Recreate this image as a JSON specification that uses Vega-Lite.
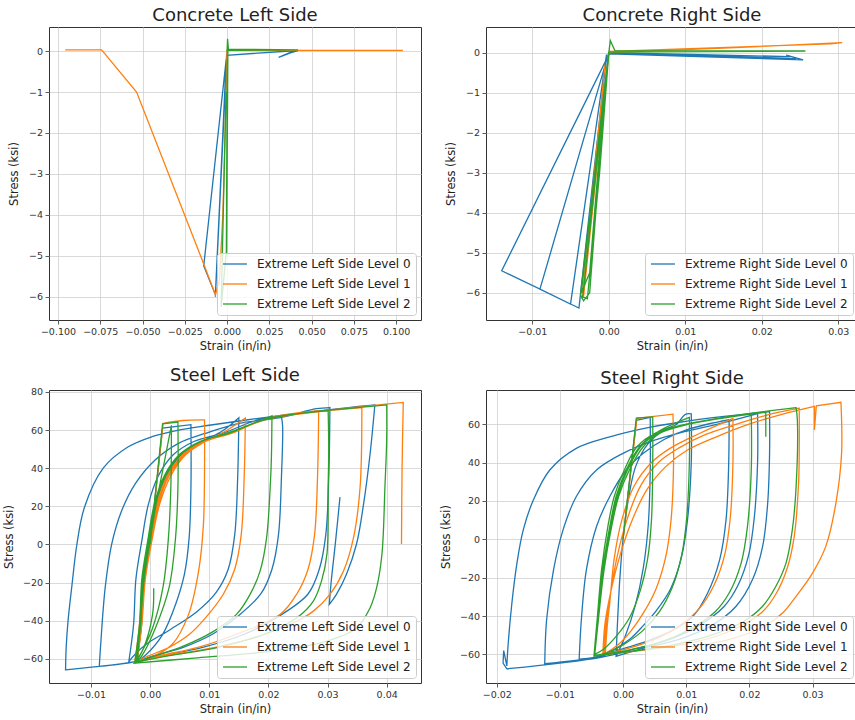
{
"$schema": "https://vega.github.io/schema/vega-lite/v6.json",
"background": "white",
"padding": {"left": 2, "top": 6, "right": 0, "bottom": 0},
"config": {
 "font": "DejaVu Sans",
 "view": {"stroke": "#333", "strokeWidth": 1},
 "axis": {"gridColor": "#cfcfcf", "gridWidth": 0.8, "domain": false, "tickColor": "#333", "tickSize": 4, "tickWidth": 0.8, "labelFontSize": 9.5, "labelColor": "#333", "titleFontSize": 11.5, "titleFontWeight": "normal", "titleColor": "#222", "labelPadding": 2.5, "titlePadding": 4, "labelFlush": false, "labelOverlap": false},
 "title": {"fontSize": 18, "fontWeight": "normal", "color": "#222", "offset": 2, "baseline": "alphabetic"},
 "legend": {"labelFontSize": 12, "labelColor": "#222", "labelLimit": 400, "symbolType": "M-1,0H3.8", "symbolSize": 100, "symbolStrokeWidth": 1.5, "labelOffset": 23, "rowPadding": 8, "padding": 5, "fillColor": "rgba(255,255,255,0.8)", "strokeColor": "#cccccc", "cornerRadius": 3, "orient": "bottom-right", "offset": 5},
 "line": {"strokeWidth": 1.3}
},
"datasets": {
"cl": [
{"l":0,"x":0,"y":0},{"l":0,"x":-0.0069,"y":-6.0},{"l":0,"x":-0.0005,"y":-0.2},{"l":0,"x":-0.0138,"y":-5.25},{"l":0,"x":-0.0069,"y":-5.95},{"l":0,"x":-0.0003,"y":-0.1},{"l":0,"x":0.0395,"y":0.01},{"l":0,"x":0.0305,"y":-0.15},{"l":0,"x":0.0375,"y":-0.04},{"l":0,"x":0.042,"y":0.01},
{"l":1,"x":0.104,"y":0.02},{"l":1,"x":0.05,"y":0.02},{"l":1,"x":0,"y":0.02},{"l":1,"x":-0.0008,"y":-1.5},{"l":1,"x":-0.0025,"y":-4},{"l":1,"x":-0.0045,"y":-5.6},{"l":1,"x":-0.0069,"y":-5.95},{"l":1,"x":-0.0138,"y":-5.2},{"l":1,"x":-0.0535,"y":-1.0},{"l":1,"x":-0.0742,"y":0.03},{"l":1,"x":-0.0957,"y":0.03},
{"l":2,"x":0,"y":0},{"l":2,"x":0.0003,"y":0.3},{"l":2,"x":0.0008,"y":0.05},{"l":2,"x":0.042,"y":0.03},{"l":2,"x":0.0005,"y":0.02},{"l":2,"x":-0.0003,"y":-4.95},{"l":2,"x":0.0002,"y":-0.5},{"l":2,"x":-0.0002,"y":-3},{"l":2,"x":0.0001,"y":-0.2},{"l":2,"x":-0.0004,"y":-4.9},{"l":2,"x":-0.0035,"y":-6.25},{"l":2,"x":-0.0006,"y":-1.0}
],
"cr": [
{"l":0,"x":0,"y":0},{"l":0,"x":0.012,"y":-0.05},{"l":0,"x":0.0237,"y":-0.1},{"l":0,"x":0.0232,"y":-0.06},{"l":0,"x":0.0254,"y":-0.18},{"l":0,"x":0,"y":-0.03},{"l":0,"x":0.018,"y":-0.12},{"l":0,"x":0.0245,"y":-0.15},{"l":0,"x":0,"y":0},{"l":0,"x":-0.0039,"y":-6.38},{"l":0,"x":-0.0003,"y":-0.1},{"l":0,"x":-0.0039,"y":-6.38},{"l":0,"x":-0.005,"y":-6.28},{"l":0,"x":-0.0003,"y":-0.05},{"l":0,"x":-0.005,"y":-6.28},{"l":0,"x":-0.009,"y":-5.91},{"l":0,"x":0,"y":0},{"l":0,"x":-0.009,"y":-5.91},{"l":0,"x":-0.014,"y":-5.45},{"l":0,"x":0,"y":-0.05},
{"l":1,"x":0,"y":0},{"l":1,"x":-0.0033,"y":-6.1},{"l":1,"x":-0.0005,"y":-0.3},{"l":1,"x":-0.0035,"y":-6.15},{"l":1,"x":0,"y":0},{"l":1,"x":0.015,"y":0.11},{"l":1,"x":0.0305,"y":0.25},{"l":1,"x":0.029,"y":0.22},{"l":1,"x":0,"y":0.03},
{"l":2,"x":0,"y":0},{"l":2,"x":0.0002,"y":0.3},{"l":2,"x":0.0008,"y":0.05},{"l":2,"x":0.0257,"y":0.04},{"l":2,"x":0,"y":0.01},{"l":2,"x":-0.0037,"y":-6.05},{"l":2,"x":-0.0033,"y":-6.2},{"l":2,"x":-0.0025,"y":-6.0},{"l":2,"x":-0.0003,"y":-0.5},{"l":2,"x":-0.0034,"y":-6.1},{"l":2,"x":-0.0028,"y":-6.15},{"l":2,"x":-0.0012,"y":-3},{"l":2,"x":0,"y":0},{"l":2,"x":-0.0036,"y":-6.0},{"l":2,"x":-0.0025,"y":-5.5},{"l":2,"x":-0.0008,"y":-1.5},{"l":2,"x":0,"y":0}
],
"sl": [
{"l":0,"x":0,"y":0},{"l":0,"x":0.0021,"y":61},{"l":0,"x":0.0021,"y":61},{"l":0,"x":0.0069,"y":62.8},{"l":0,"x":0.0069,"y":62.8},
{"l":0,"x":0.0069,"y":30},{"l":0,"x":0.0066,"y":3.7},{"l":0,"x":0.0058,"y":-15.6},{"l":0,"x":0.0043,"y":-31.5},{"l":0,"x":0.0021,"y":-47.3},{"l":0,"x":-0.0007,"y":-57.9},{"l":0,"x":-0.00225,"y":-61.5},{"l":0,"x":-0.00225,"y":-61.5},
{"l":0,"x":-0.00145,"y":-42},{"l":0,"x":-0.00105,"y":-18},{"l":0,"x":-0.00005,"y":2},{"l":0,"x":0.00105,"y":21},{"l":0,"x":0.00275,"y":36},{"l":0,"x":0.00525,"y":47},{"l":0,"x":0.0088,"y":54},{"l":0,"x":0.0122,"y":59.5},{"l":0,"x":0.015,"y":66.5},{"l":0,"x":0.015,"y":66.5},
{"l":0,"x":0.0148,"y":35},{"l":0,"x":0.0143,"y":5},{"l":0,"x":0.0132,"y":-13},{"l":0,"x":0.0112,"y":-25},{"l":0,"x":0.008,"y":-35},{"l":0,"x":0.0035,"y":-44.5},{"l":0,"x":-0.0005,"y":-52},{"l":0,"x":-0.0025,"y":-57.5},{"l":0,"x":-0.0036,"y":-61.5},{"l":0,"x":-0.0036,"y":-61.5},
{"l":0,"x":-0.0028,"y":-42},{"l":0,"x":-0.0024,"y":-18},{"l":0,"x":-0.0014,"y":2},{"l":0,"x":-0.0003,"y":21},{"l":0,"x":0.0014,"y":36},{"l":0,"x":0.0039,"y":47},{"l":0,"x":0.0074,"y":54},{"l":0,"x":0.0124,"y":58.5},{"l":0,"x":0.0184,"y":65.5},{"l":0,"x":0.0222,"y":67},{"l":0,"x":0.0222,"y":67},
{"l":0,"x":0.0224,"y":62},{"l":0,"x":0.0222,"y":35},{"l":0,"x":0.0217,"y":5},{"l":0,"x":0.0206,"y":-13},{"l":0,"x":0.0187,"y":-26},{"l":0,"x":0.0147,"y":-38},{"l":0,"x":0.0106,"y":-47},{"l":0,"x":0.0056,"y":-54},{"l":0,"x":0.0005,"y":-58.5},{"l":0,"x":-0.0025,"y":-61.5},{"l":0,"x":-0.0086,"y":-64},{"l":0,"x":-0.0086,"y":-64},
{"l":0,"x":-0.0084,"y":-54.3},{"l":0,"x":-0.0076,"y":-22.7},{"l":0,"x":-0.0065,"y":0.2},{"l":0,"x":-0.0048,"y":17.8},{"l":0,"x":-0.0025,"y":31.9},{"l":0,"x":0.0008,"y":44.2},{"l":0,"x":0.0048,"y":53},{"l":0,"x":0.0093,"y":58.2},{"l":0,"x":0.015,"y":63.5},{"l":0,"x":0.022,"y":66.5},{"l":0,"x":0.0281,"y":71.2},{"l":0,"x":0.0304,"y":71.8},{"l":0,"x":0.0304,"y":71.8},
{"l":0,"x":0.0302,"y":35},{"l":0,"x":0.0297,"y":5},{"l":0,"x":0.0286,"y":-13},{"l":0,"x":0.0267,"y":-26},{"l":0,"x":0.0216,"y":-38},{"l":0,"x":0.016,"y":-47},{"l":0,"x":0.0089,"y":-54},{"l":0,"x":0.0018,"y":-58.5},{"l":0,"x":-0.0025,"y":-61.5},{"l":0,"x":-0.0143,"y":-65.8},{"l":0,"x":-0.0143,"y":-65.8},
{"l":0,"x":-0.0142,"y":-54.3},{"l":0,"x":-0.0139,"y":-40.8},{"l":0,"x":-0.0132,"y":-20.9},{"l":0,"x":-0.0124,"y":-0.3},{"l":0,"x":-0.0111,"y":19.5},{"l":0,"x":-0.0079,"y":40.1},{"l":0,"x":-0.0037,"y":51.2},{"l":0,"x":0.0003,"y":56.5},{"l":0,"x":0.0048,"y":60},{"l":0,"x":0.01,"y":62.5},{"l":0,"x":0.018,"y":66},{"l":0,"x":0.027,"y":69.5},{"l":0,"x":0.0335,"y":71.8},{"l":0,"x":0.038,"y":73.2},{"l":0,"x":0.038,"y":73.2},
{"l":0,"x":0.0372,"y":47.7},{"l":0,"x":0.0361,"y":21.4},{"l":0,"x":0.0349,"y":0.2},{"l":0,"x":0.0332,"y":-15.6},{"l":0,"x":0.0315,"y":-26.2},{"l":0,"x":0.0303,"y":-31.5},{"l":0,"x":0.0303,"y":-31.5},
{"l":0,"x":0.0306,"y":-20},{"l":0,"x":0.0313,"y":0},{"l":0,"x":0.0321,"y":24.8},
{"l":1,"x":0,"y":0},{"l":1,"x":0.0022,"y":63.5},{"l":1,"x":0.0022,"y":63.5},{"l":1,"x":0.0055,"y":65},{"l":1,"x":0.0092,"y":65.3},{"l":1,"x":0.0092,"y":65.3},
{"l":1,"x":0.0092,"y":40},{"l":1,"x":0.009,"y":10},{"l":1,"x":0.0082,"y":-13.9},{"l":1,"x":0.0065,"y":-36.7},{"l":1,"x":0.0037,"y":-52.5},{"l":1,"x":-0.0008,"y":-60.4},{"l":1,"x":-0.0022,"y":-61.2},{"l":1,"x":-0.0022,"y":-61.2},
{"l":1,"x":-0.0014,"y":-42},{"l":1,"x":-0.0008,"y":-18},{"l":1,"x":0.0003,"y":2},{"l":1,"x":0.0016,"y":21},{"l":1,"x":0.0035,"y":36},{"l":1,"x":0.006,"y":47},{"l":1,"x":0.0093,"y":54},{"l":1,"x":0.0128,"y":59.5},{"l":1,"x":0.0161,"y":66.3},{"l":1,"x":0.0161,"y":66.3},
{"l":1,"x":0.0159,"y":35},{"l":1,"x":0.0154,"y":5},{"l":1,"x":0.0143,"y":-13},{"l":1,"x":0.0124,"y":-26},{"l":1,"x":0.0095,"y":-38},{"l":1,"x":0.0067,"y":-47},{"l":1,"x":0.0032,"y":-54},{"l":1,"x":-0.0003,"y":-58.5},{"l":1,"x":-0.0024,"y":-61.5},{"l":1,"x":-0.0024,"y":-61.5},
{"l":1,"x":-0.0016,"y":-42},{"l":1,"x":-0.0009,"y":-18},{"l":1,"x":0.0002,"y":2},{"l":1,"x":0.0014,"y":21},{"l":1,"x":0.0032,"y":36},{"l":1,"x":0.0058,"y":47},{"l":1,"x":0.0093,"y":54},{"l":1,"x":0.014,"y":58.5},{"l":1,"x":0.0196,"y":66},{"l":1,"x":0.0285,"y":70.2},{"l":1,"x":0.0285,"y":70.2},
{"l":1,"x":0.0283,"y":35},{"l":1,"x":0.0278,"y":5},{"l":1,"x":0.0267,"y":-13},{"l":1,"x":0.0248,"y":-26},{"l":1,"x":0.022,"y":-36.7},{"l":1,"x":0.0147,"y":-47},{"l":1,"x":0.0081,"y":-54},{"l":1,"x":0.0015,"y":-58.5},{"l":1,"x":-0.0025,"y":-62},{"l":1,"x":-0.0025,"y":-62},
{"l":1,"x":-0.0017,"y":-42},{"l":1,"x":-0.0011,"y":-18},{"l":1,"x":0,"y":2},{"l":1,"x":0.0012,"y":21},{"l":1,"x":0.003,"y":36},{"l":1,"x":0.0056,"y":47},{"l":1,"x":0.009,"y":54},{"l":1,"x":0.0138,"y":58.5},{"l":1,"x":0.0195,"y":65.5},{"l":1,"x":0.0275,"y":69.3},{"l":1,"x":0.0358,"y":71.8},{"l":1,"x":0.0358,"y":71.8},
{"l":1,"x":0.0355,"y":30},{"l":1,"x":0.0344,"y":3.7},{"l":1,"x":0.0327,"y":-13.9},{"l":1,"x":0.0304,"y":-26.2},{"l":1,"x":0.0276,"y":-35},{"l":1,"x":0.0248,"y":-40.3},{"l":1,"x":0.0194,"y":-47},{"l":1,"x":0.011,"y":-54},{"l":1,"x":0.0025,"y":-58.5},{"l":1,"x":-0.0026,"y":-62},{"l":1,"x":-0.0026,"y":-62},
{"l":1,"x":-0.0018,"y":-42},{"l":1,"x":-0.0012,"y":-18},{"l":1,"x":-0.0001,"y":2},{"l":1,"x":0.0011,"y":21},{"l":1,"x":0.0029,"y":36},{"l":1,"x":0.0055,"y":47},{"l":1,"x":0.0089,"y":54},{"l":1,"x":0.0137,"y":58.5},{"l":1,"x":0.0194,"y":65.5},{"l":1,"x":0.0274,"y":69.5},{"l":1,"x":0.035,"y":72},{"l":1,"x":0.0428,"y":74.5},{"l":1,"x":0.0428,"y":74.5},
{"l":1,"x":0.0426,"y":40},{"l":1,"x":0.0425,"y":0.2},
{"l":2,"x":0,"y":0},{"l":2,"x":0.0021,"y":63.2},{"l":2,"x":0.0021,"y":63.2},{"l":2,"x":0.0047,"y":64.2},{"l":2,"x":0.0047,"y":64.2},
{"l":2,"x":0.0047,"y":30},{"l":2,"x":0.0043,"y":3.7},{"l":2,"x":0.0032,"y":-22.7},{"l":2,"x":0.0009,"y":-43.8},{"l":2,"x":-0.0013,"y":-57.9},{"l":2,"x":-0.0022,"y":-61.5},{"l":2,"x":-0.0022,"y":-61.5},
{"l":2,"x":-0.0016,"y":-40},{"l":2,"x":-0.001,"y":-18},{"l":2,"x":0,"y":2},{"l":2,"x":0.001,"y":21},{"l":2,"x":0.0022,"y":40},{"l":2,"x":0.0036,"y":62.5},{"l":2,"x":0.0036,"y":62.5},
{"l":2,"x":0.0035,"y":30},{"l":2,"x":0.0031,"y":3.7},{"l":2,"x":0.0022,"y":-22},{"l":2,"x":0.0004,"y":-44},{"l":2,"x":-0.0015,"y":-57},{"l":2,"x":-0.0024,"y":-61.8},{"l":2,"x":-0.0024,"y":-61.8},
{"l":2,"x":-0.0016,"y":-42},{"l":2,"x":-0.0012,"y":-18},{"l":2,"x":-0.0002,"y":2},{"l":2,"x":0.0009,"y":21},{"l":2,"x":0.0026,"y":36},{"l":2,"x":0.0051,"y":47},{"l":2,"x":0.0086,"y":54},{"l":2,"x":0.0136,"y":59},{"l":2,"x":0.0206,"y":67.5},{"l":2,"x":0.0206,"y":67.5},
{"l":2,"x":0.0205,"y":45},{"l":2,"x":0.0203,"y":30},{"l":2,"x":0.0197,"y":3.7},{"l":2,"x":0.0186,"y":-13.9},{"l":2,"x":0.0169,"y":-26.2},{"l":2,"x":0.0146,"y":-36.7},{"l":2,"x":0.0105,"y":-46},{"l":2,"x":0.0055,"y":-53.5},{"l":2,"x":0.0008,"y":-58.5},{"l":2,"x":-0.0025,"y":-62},{"l":2,"x":-0.0025,"y":-62},
{"l":2,"x":-0.0017,"y":-42},{"l":2,"x":-0.0013,"y":-18},{"l":2,"x":-0.0003,"y":2},{"l":2,"x":0.0008,"y":21},{"l":2,"x":0.0025,"y":36},{"l":2,"x":0.005,"y":47},{"l":2,"x":0.0085,"y":54},{"l":2,"x":0.0135,"y":58.5},{"l":2,"x":0.0195,"y":65.8},{"l":2,"x":0.0301,"y":70.2},{"l":2,"x":0.0301,"y":70.2},
{"l":2,"x":0.0302,"y":50},{"l":2,"x":0.0301,"y":30},{"l":2,"x":0.0299,"y":-5},{"l":2,"x":0.029,"y":-19},{"l":2,"x":0.0276,"y":-29.7},{"l":2,"x":0.0248,"y":-38.5},{"l":2,"x":0.0195,"y":-47},{"l":2,"x":0.0115,"y":-54},{"l":2,"x":0.003,"y":-58.5},{"l":2,"x":-0.0026,"y":-62},{"l":2,"x":-0.0026,"y":-62},
{"l":2,"x":-0.0018,"y":-42},{"l":2,"x":-0.0014,"y":-18},{"l":2,"x":-0.0004,"y":2},{"l":2,"x":0.0007,"y":21},{"l":2,"x":0.0024,"y":36},{"l":2,"x":0.0049,"y":47},{"l":2,"x":0.0084,"y":54},{"l":2,"x":0.0134,"y":58.5},{"l":2,"x":0.0194,"y":65.5},{"l":2,"x":0.0274,"y":69.5},{"l":2,"x":0.034,"y":71.5},{"l":2,"x":0.04,"y":73.2},{"l":2,"x":0.04,"y":73.2},
{"l":2,"x":0.04,"y":55},{"l":2,"x":0.0397,"y":30},{"l":2,"x":0.0392,"y":-5},{"l":2,"x":0.0383,"y":-22.7},{"l":2,"x":0.0372,"y":-33.2},{"l":2,"x":0.0349,"y":-43.8},{"l":2,"x":0.029,"y":-51.5},{"l":2,"x":0.019,"y":-56.5},{"l":2,"x":0.008,"y":-59.5},{"l":2,"x":-0.0027,"y":-62.3},{"l":2,"x":-0.0027,"y":-62.3},
{"l":2,"x":-0.0012,"y":-55},{"l":2,"x":0.0004,"y":-37},{"l":2,"x":0.0006,"y":-23}
],
"sr": [
{"l":0,"x":0,"y":0},{"l":0,"x":0.0021,"y":62},{"l":0,"x":0.0021,"y":62},{"l":0,"x":0.0043,"y":63.5},{"l":0,"x":0.0043,"y":63.5},
{"l":0,"x":0.0043,"y":35},{"l":0,"x":0.004,"y":8},{"l":0,"x":0.0032,"y":-15},{"l":0,"x":0.0019,"y":-35},{"l":0,"x":0.0004,"y":-50},{"l":0,"x":-0.0011,"y":-61},{"l":0,"x":-0.0011,"y":-61},
{"l":0,"x":-0.0009,"y":-45},{"l":0,"x":-0.0005,"y":-20},{"l":0,"x":0,"y":0},{"l":0,"x":0.0008,"y":20},{"l":0,"x":0.002,"y":38},{"l":0,"x":0.004,"y":50},{"l":0,"x":0.0065,"y":57},{"l":0,"x":0.0085,"y":60},{"l":0,"x":0.0098,"y":65},{"l":0,"x":0.0108,"y":65.4},{"l":0,"x":0.0108,"y":65.4},
{"l":0,"x":0.0108,"y":40},{"l":0,"x":0.0102,"y":10},{"l":0,"x":0.0092,"y":-10},{"l":0,"x":0.0075,"y":-26},{"l":0,"x":0.0053,"y":-37},{"l":0,"x":0.0032,"y":-45},{"l":0,"x":0.0011,"y":-52},{"l":0,"x":-0.0012,"y":-57},{"l":0,"x":-0.003,"y":-60.5},{"l":0,"x":-0.00695,"y":-62.5},{"l":0,"x":-0.00695,"y":-62.5},
{"l":0,"x":-0.0066,"y":-41.8},{"l":0,"x":-0.0058,"y":-15.8},{"l":0,"x":-0.0042,"y":6.7},{"l":0,"x":-0.0021,"y":22.3},{"l":0,"x":0.0005,"y":36.1},{"l":0,"x":0.0032,"y":44.8},{"l":0,"x":0.0065,"y":52},{"l":0,"x":0.0105,"y":57.5},{"l":0,"x":0.0168,"y":62.3},{"l":0,"x":0.0168,"y":62.3},
{"l":0,"x":0.0167,"y":36},{"l":0,"x":0.0163,"y":10},{"l":0,"x":0.0153,"y":-10.6},{"l":0,"x":0.0134,"y":-28},{"l":0,"x":0.0111,"y":-40},{"l":0,"x":0.0075,"y":-48},{"l":0,"x":0.003,"y":-54},{"l":0,"x":-0.001,"y":-58},{"l":0,"x":-0.0045,"y":-61.5},{"l":0,"x":-0.0124,"y":-64.8},{"l":0,"x":-0.0124,"y":-64.8},
{"l":0,"x":-0.0121,"y":-41.8},{"l":0,"x":-0.011,"y":-15.8},{"l":0,"x":-0.0095,"y":4.9},{"l":0,"x":-0.0074,"y":22.3},{"l":0,"x":-0.0042,"y":36.1},{"l":0,"x":0,"y":44.8},{"l":0,"x":0.0042,"y":50.8},{"l":0,"x":0.009,"y":55.5},{"l":0,"x":0.015,"y":60},{"l":0,"x":0.0213,"y":65.5},{"l":0,"x":0.0213,"y":65.5},
{"l":0,"x":0.0213,"y":40},{"l":0,"x":0.0208,"y":12},{"l":0,"x":0.0199,"y":-8},{"l":0,"x":0.0182,"y":-24},{"l":0,"x":0.016,"y":-35},{"l":0,"x":0.012,"y":-45},{"l":0,"x":0.0075,"y":-52},{"l":0,"x":0.002,"y":-57},{"l":0,"x":-0.0035,"y":-61.5},{"l":0,"x":-0.0184,"y":-67.5},{"l":0,"x":-0.0184,"y":-67.5},
{"l":0,"x":-0.019,"y":-64.5},{"l":0,"x":-0.019,"y":-64.5},{"l":0,"x":-0.0189,"y":-58},{"l":0,"x":-0.0189,"y":-58},{"l":0,"x":-0.0184,"y":-66},{"l":0,"x":-0.0184,"y":-66},
{"l":0,"x":-0.0182,"y":-55},{"l":0,"x":-0.0176,"y":-33.2},{"l":0,"x":-0.0168,"y":-12.4},{"l":0,"x":-0.0158,"y":4.9},{"l":0,"x":-0.0142,"y":20.5},{"l":0,"x":-0.0116,"y":36.1},{"l":0,"x":-0.0074,"y":47.4},{"l":0,"x":-0.0021,"y":53.4},{"l":0,"x":0.0032,"y":57.7},{"l":0,"x":0.009,"y":61},{"l":0,"x":0.016,"y":64},{"l":0,"x":0.0232,"y":66.5},{"l":0,"x":0.0232,"y":66.5},
{"l":0,"x":0.0232,"y":44.8},{"l":0,"x":0.0229,"y":18.8},{"l":0,"x":0.0221,"y":-3.7},{"l":0,"x":0.0205,"y":-21},{"l":0,"x":0.0179,"y":-34.9},{"l":0,"x":0.014,"y":-45},{"l":0,"x":0.009,"y":-52},{"l":0,"x":0.003,"y":-57},{"l":0,"x":-0.0011,"y":-61},{"l":0,"x":-0.0011,"y":-61},
{"l":0,"x":-0.0009,"y":-56},
{"l":1,"x":0,"y":0},{"l":1,"x":0.0022,"y":63},{"l":1,"x":0.0022,"y":63},{"l":1,"x":0.0079,"y":65.2},{"l":1,"x":0.0079,"y":65.2},
{"l":1,"x":0.008,"y":40},{"l":1,"x":0.0076,"y":10},{"l":1,"x":0.0067,"y":-10},{"l":1,"x":0.0052,"y":-26},{"l":1,"x":0.0033,"y":-38},{"l":1,"x":0.0012,"y":-48},{"l":1,"x":-0.0008,"y":-55},{"l":1,"x":-0.0028,"y":-59.5},{"l":1,"x":-0.0028,"y":-59.5},
{"l":1,"x":-0.0025,"y":-45},{"l":1,"x":-0.0021,"y":-33},{"l":1,"x":-0.0014,"y":-10},{"l":1,"x":-0.0002,"y":10},{"l":1,"x":0.0018,"y":28},{"l":1,"x":0.0045,"y":40},{"l":1,"x":0.0075,"y":47.5},{"l":1,"x":0.012,"y":55},{"l":1,"x":0.0174,"y":63},{"l":1,"x":0.0174,"y":63},
{"l":1,"x":0.0174,"y":40},{"l":1,"x":0.017,"y":12},{"l":1,"x":0.0161,"y":-8},{"l":1,"x":0.0144,"y":-24},{"l":1,"x":0.0121,"y":-36},{"l":1,"x":0.009,"y":-45},{"l":1,"x":0.0055,"y":-51.5},{"l":1,"x":0.0012,"y":-56.5},{"l":1,"x":-0.003,"y":-60},{"l":1,"x":-0.003,"y":-60},
{"l":1,"x":-0.0027,"y":-45},{"l":1,"x":-0.0022,"y":-33},{"l":1,"x":-0.001,"y":-10},{"l":1,"x":0.0006,"y":10},{"l":1,"x":0.0028,"y":28},{"l":1,"x":0.0056,"y":40},{"l":1,"x":0.0088,"y":47.5},{"l":1,"x":0.013,"y":54.5},{"l":1,"x":0.018,"y":60},{"l":1,"x":0.0225,"y":64.5},{"l":1,"x":0.0279,"y":68.3},{"l":1,"x":0.0279,"y":68.3},
{"l":1,"x":0.0279,"y":50},{"l":1,"x":0.0278,"y":30},{"l":1,"x":0.0271,"y":1.4},{"l":1,"x":0.026,"y":-15},{"l":1,"x":0.0243,"y":-28},{"l":1,"x":0.022,"y":-38},{"l":1,"x":0.0175,"y":-47},{"l":1,"x":0.0115,"y":-53.5},{"l":1,"x":0.004,"y":-57.5},{"l":1,"x":-0.0032,"y":-60},{"l":1,"x":-0.0032,"y":-60},
{"l":1,"x":-0.0029,"y":-45},{"l":1,"x":-0.0023,"y":-33},{"l":1,"x":-0.0008,"y":-12},{"l":1,"x":0.0012,"y":8},{"l":1,"x":0.0038,"y":26},{"l":1,"x":0.0068,"y":38},{"l":1,"x":0.0102,"y":46.5},{"l":1,"x":0.0145,"y":53},{"l":1,"x":0.0195,"y":59.5},{"l":1,"x":0.025,"y":65},{"l":1,"x":0.0303,"y":69.3},{"l":1,"x":0.0303,"y":69.3},{"l":1,"x":0.0303,"y":57},{"l":1,"x":0.0303,"y":57},{"l":1,"x":0.0306,"y":69.5},{"l":1,"x":0.0306,"y":69.5},{"l":1,"x":0.0345,"y":71.4},{"l":1,"x":0.0345,"y":71.4},
{"l":1,"x":0.0346,"y":44.8},{"l":1,"x":0.0337,"y":18.8},{"l":1,"x":0.0321,"y":-3.7},{"l":1,"x":0.03,"y":-17.6},{"l":1,"x":0.0274,"y":-29.7},{"l":1,"x":0.0253,"y":-38.3},{"l":1,"x":0.022,"y":-46},{"l":1,"x":0.017,"y":-52},{"l":1,"x":0.011,"y":-56},
{"l":2,"x":0,"y":0},{"l":2,"x":0.0021,"y":63.2},{"l":2,"x":0.0021,"y":63.2},{"l":2,"x":0.0047,"y":63.8},{"l":2,"x":0.0047,"y":63.8},
{"l":2,"x":0.0047,"y":40},{"l":2,"x":0.0045,"y":10},{"l":2,"x":0.0039,"y":-10},{"l":2,"x":0.0027,"y":-27},{"l":2,"x":0.001,"y":-41},{"l":2,"x":-0.0012,"y":-51},{"l":2,"x":-0.003,"y":-57},{"l":2,"x":-0.0045,"y":-60},{"l":2,"x":-0.0045,"y":-60},
{"l":2,"x":-0.004,"y":-41.8},{"l":2,"x":-0.0032,"y":-15.8},{"l":2,"x":-0.0021,"y":6.7},{"l":2,"x":-0.0011,"y":22.3},{"l":2,"x":0.0005,"y":36.1},{"l":2,"x":0.0026,"y":48.2},{"l":2,"x":0.0055,"y":56},{"l":2,"x":0.0105,"y":63.5},{"l":2,"x":0.0105,"y":63.5},
{"l":2,"x":0.0105,"y":40},{"l":2,"x":0.0101,"y":12},{"l":2,"x":0.0093,"y":-8},{"l":2,"x":0.0078,"y":-25},{"l":2,"x":0.0057,"y":-38},{"l":2,"x":0.003,"y":-48},{"l":2,"x":0,"y":-55},{"l":2,"x":-0.0025,"y":-59},{"l":2,"x":-0.0045,"y":-60.5},{"l":2,"x":-0.0045,"y":-60.5},
{"l":2,"x":-0.0039,"y":-41.8},{"l":2,"x":-0.003,"y":-15.8},{"l":2,"x":-0.0018,"y":6.7},{"l":2,"x":-0.0007,"y":22.3},{"l":2,"x":0.001,"y":36.1},{"l":2,"x":0.0032,"y":48.2},{"l":2,"x":0.006,"y":55.5},{"l":2,"x":0.0098,"y":59.5},{"l":2,"x":0.0145,"y":62.5},{"l":2,"x":0.0203,"y":65.3},{"l":2,"x":0.0203,"y":65.3},
{"l":2,"x":0.0203,"y":36.1},{"l":2,"x":0.0197,"y":6.7},{"l":2,"x":0.0187,"y":-12.4},{"l":2,"x":0.0168,"y":-28},{"l":2,"x":0.0145,"y":-38},{"l":2,"x":0.0105,"y":-47},{"l":2,"x":0.006,"y":-53.5},{"l":2,"x":0.0005,"y":-58},{"l":2,"x":-0.0046,"y":-60.5},{"l":2,"x":-0.0046,"y":-60.5},
{"l":2,"x":-0.0041,"y":-41.8},{"l":2,"x":-0.0034,"y":-15.8},{"l":2,"x":-0.0024,"y":6.7},{"l":2,"x":-0.0014,"y":22.3},{"l":2,"x":0.0002,"y":36.1},{"l":2,"x":0.0022,"y":48.2},{"l":2,"x":0.0052,"y":55.5},{"l":2,"x":0.0093,"y":59.5},{"l":2,"x":0.0145,"y":62.8},{"l":2,"x":0.021,"y":66},{"l":2,"x":0.0274,"y":68.6},{"l":2,"x":0.0274,"y":68.6},
{"l":2,"x":0.0276,"y":62},{"l":2,"x":0.0274,"y":27.4},{"l":2,"x":0.0268,"y":4.9},{"l":2,"x":0.0258,"y":-12.4},{"l":2,"x":0.0242,"y":-24.5},{"l":2,"x":0.0221,"y":-34.9},{"l":2,"x":0.019,"y":-43},{"l":2,"x":0.014,"y":-50},{"l":2,"x":0.008,"y":-55},{"l":2,"x":0.001,"y":-58.5},{"l":2,"x":-0.0046,"y":-61},{"l":2,"x":-0.0046,"y":-61},
{"l":2,"x":-0.004,"y":-41.8},{"l":2,"x":-0.0031,"y":-15.8},{"l":2,"x":-0.002,"y":6.7},{"l":2,"x":-0.0009,"y":22.3},{"l":2,"x":0.0007,"y":36.1},{"l":2,"x":0.0028,"y":48.2},{"l":2,"x":0.0057,"y":55.5},{"l":2,"x":0.0097,"y":59.5},{"l":2,"x":0.0147,"y":62.8},{"l":2,"x":0.0226,"y":66.2},{"l":2,"x":0.0226,"y":66.2},{"l":2,"x":0.0226,"y":53.4}
]
},
"columns": 2,
"spacing": {"row": 14, "column": 17},
"resolve": {"scale": {"color": "independent", "x": "independent", "y": "independent"}, "legend": {"color": "independent"}},
"concat": [
{
 "title": "Concrete Left Side", "width": 372, "height": 293,
 "data": {"name": "cl"},
 "transform": [{"window": [{"op": "row_number", "as": "o"}]}],
 "mark": {"type": "line", "clip": true},
 "encoding": {
  "x": {"field": "x", "type": "quantitative", "scale": {"domain": [-0.1053, 0.1147], "nice": false, "zero": false}, "axis": {"values": [-0.1, -0.075, -0.05, -0.025, 0, 0.025, 0.05, 0.075, 0.1], "format": ".3f", "title": "Strain (in/in)"}},
  "y": {"field": "y", "type": "quantitative", "scale": {"domain": [-6.57, 0.59], "nice": false, "zero": false}, "axis": {"values": [-6, -5, -4, -3, -2, -1, 0], "format": "d", "title": "Stress (ksi)", "minExtent": 20, "maxExtent": 20, "titlePadding": 10}},
  "color": {"field": "l", "type": "nominal", "scale": {"domain": [0, 1, 2], "range": ["#1f77b4", "#ff7f0e", "#2ca02c"]}, "legend": {"title": null, "labelExpr": "'Extreme Left Side Level ' + datum.label"}},
  "order": {"field": "o"}
 }
},
{
 "title": "Concrete Right Side", "width": 372, "height": 293,
 "data": {"name": "cr"},
 "transform": [{"window": [{"op": "row_number", "as": "o"}]}],
 "mark": {"type": "line", "clip": true},
 "encoding": {
  "x": {"field": "x", "type": "quantitative", "scale": {"domain": [-0.01605, 0.03257], "nice": false, "zero": false}, "axis": {"values": [-0.01, 0, 0.01, 0.02, 0.03], "format": ".2f", "title": "Strain (in/in)"}},
  "y": {"field": "y", "type": "quantitative", "scale": {"domain": [-6.68, 0.64], "nice": false, "zero": false}, "axis": {"values": [-6, -5, -4, -3, -2, -1, 0], "format": "d", "title": "Stress (ksi)", "minExtent": 20, "maxExtent": 20, "titlePadding": 10}},
  "color": {"field": "l", "type": "nominal", "scale": {"domain": [0, 1, 2], "range": ["#1f77b4", "#ff7f0e", "#2ca02c"]}, "legend": {"title": null, "labelExpr": "'Extreme Right Side Level ' + datum.label"}},
  "order": {"field": "o"}
 }
},
{
 "title": "Steel Left Side", "width": 372, "height": 293,
 "data": {"name": "sl"},
 "transform": [{"window": [{"op": "row_number", "as": "o"}]}],
 "mark": {"type": "line", "clip": true, "interpolate": "catmull-rom"},
 "encoding": {
  "x": {"field": "x", "type": "quantitative", "scale": {"domain": [-0.0171, 0.0458], "nice": false, "zero": false}, "axis": {"values": [-0.01, 0, 0.01, 0.02, 0.03, 0.04], "format": ".2f", "title": "Strain (in/in)"}},
  "y": {"field": "y", "type": "quantitative", "scale": {"domain": [-72.7, 81], "nice": false, "zero": false}, "axis": {"values": [-60, -40, -20, 0, 20, 40, 60, 80], "format": "d", "title": "Stress (ksi)", "minExtent": 27, "maxExtent": 27, "titlePadding": 8}},
  "color": {"field": "l", "type": "nominal", "scale": {"domain": [0, 1, 2], "range": ["#1f77b4", "#ff7f0e", "#2ca02c"]}, "legend": {"title": null, "labelExpr": "'Extreme Left Side Level ' + datum.label"}},
  "order": {"field": "o"}
 }
},
{
 "title": "Steel Right Side", "width": 372, "height": 293,
 "data": {"name": "sr"},
 "transform": [{"window": [{"op": "row_number", "as": "o"}]}],
 "mark": {"type": "line", "clip": true, "interpolate": "catmull-rom"},
 "encoding": {
  "x": {"field": "x", "type": "quantitative", "scale": {"domain": [-0.0217, 0.0372], "nice": false, "zero": false}, "axis": {"values": [-0.02, -0.01, 0, 0.01, 0.02, 0.03], "format": ".2f", "title": "Strain (in/in)"}},
  "y": {"field": "y", "type": "quantitative", "scale": {"domain": [-74.9, 77.8], "nice": false, "zero": false}, "axis": {"values": [-60, -40, -20, 0, 20, 40, 60], "format": "d", "title": "Stress (ksi)", "minExtent": 27, "maxExtent": 27, "titlePadding": 8}},
  "color": {"field": "l", "type": "nominal", "scale": {"domain": [0, 1, 2], "range": ["#1f77b4", "#ff7f0e", "#2ca02c"]}, "legend": {"title": null, "labelExpr": "'Extreme Right Side Level ' + datum.label"}},
  "order": {"field": "o"}
 }
}
]
}
